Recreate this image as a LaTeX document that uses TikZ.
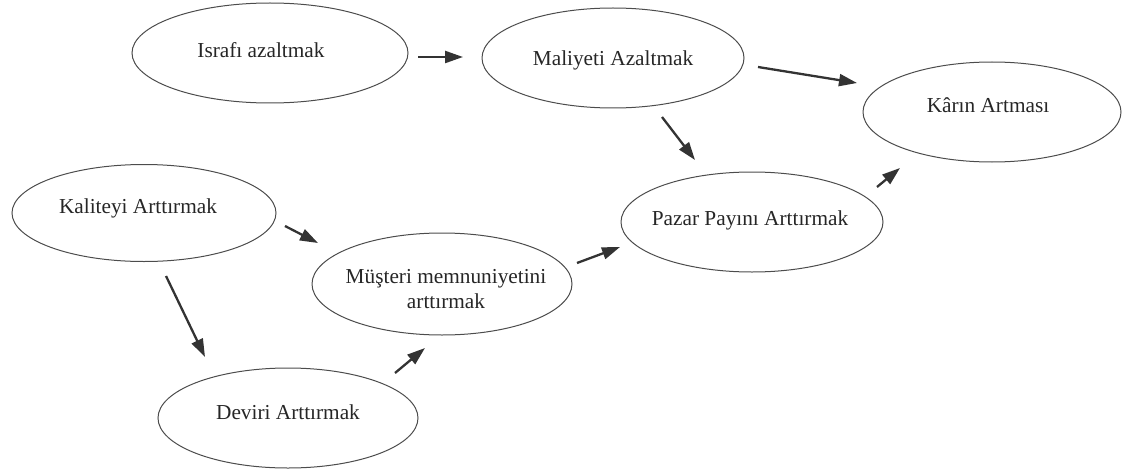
\documentclass[tikz,border=0pt]{standalone}
\usepackage{fontspec}
\setmainfont{Liberation Serif}
\usetikzlibrary{shapes.geometric,arrows.meta}
\begin{document}
\begin{tikzpicture}[x=1pt,y=-1pt,
  oval/.style={ellipse, draw=black!70, line width=1pt, inner sep=0pt},
  lbl/.style={font=\fontsize{21.3}{25}\selectfont, text=black!85, inner sep=0pt, align=center},
  arr/.style={draw=black!80, line width=2.3pt, -{Triangle[length=18pt,width=12pt]}}]
\useasboundingbox (0,0) rectangle (1123,468);
% ellipses
\node[oval, minimum width=276pt, minimum height=100pt] (israfi) at (270,53) {};
\node[oval, minimum width=262pt, minimum height=100pt] (maliyet) at (613,58) {};
\node[oval, minimum width=258pt, minimum height=100pt] (kar) at (992,112) {};
\node[oval, minimum width=264pt, minimum height=97pt] (kalite) at (144,213) {};
\node[oval, minimum width=262pt, minimum height=100pt] (pazar) at (752,222) {};
\node[oval, minimum width=260pt, minimum height=102pt] (musteri) at (442,284) {};
\node[oval, minimum width=260pt, minimum height=100pt] (devir) at (288,418) {};
% labels
\node[lbl] (tisrafi) at (261,50) {Israfı azaltmak};
\node[lbl] (tmaliyet) at (613,60) {Maliyeti Azaltmak};
\node[lbl] (tkar) at (988,105) {Kârın Artması};
\node[lbl] (tkalite) at (138,208) {Kaliteyi Arttırmak};
\node[lbl] (tpazar) at (750,220) {Pazar Payını Arttırmak};
\node[lbl] (tmusteri) at (446,289) {Müşteri memnuniyetini\\arttırmak};
\node[lbl] (tdevir) at (288,412) {Deviri Arttırmak};
% arrow end points
\coordinate (a1s) at (418,57);  \coordinate (a1e) at (463,57);
\coordinate (a2s) at (758,67);  \coordinate (a2e) at (857,83);
\coordinate (a3s) at (662,117); \coordinate (a3e) at (695,160);
\coordinate (a4s) at (877,187); \coordinate (a4e) at (900,168);
\coordinate (a5s) at (285,226); \coordinate (a5e) at (318,243);
\coordinate (a6s) at (166,276); \coordinate (a6e) at (205,357);
\coordinate (a7s) at (577,263); \coordinate (a7e) at (620,247);
\coordinate (a8s) at (395,373); \coordinate (a8e) at (425,348);
\draw[arr] (a1s) -- (a1e);
\draw[arr] (a2s) -- (a2e);
\draw[arr] (a3s) -- (a3e);
\draw[arr] (a4s) -- (a4e);
\draw[arr] (a5s) -- (a5e);
\draw[arr] (a6s) -- (a6e);
\draw[arr] (a7s) -- (a7e);
\draw[arr] (a8s) -- (a8e);
\end{tikzpicture}
\end{document}
